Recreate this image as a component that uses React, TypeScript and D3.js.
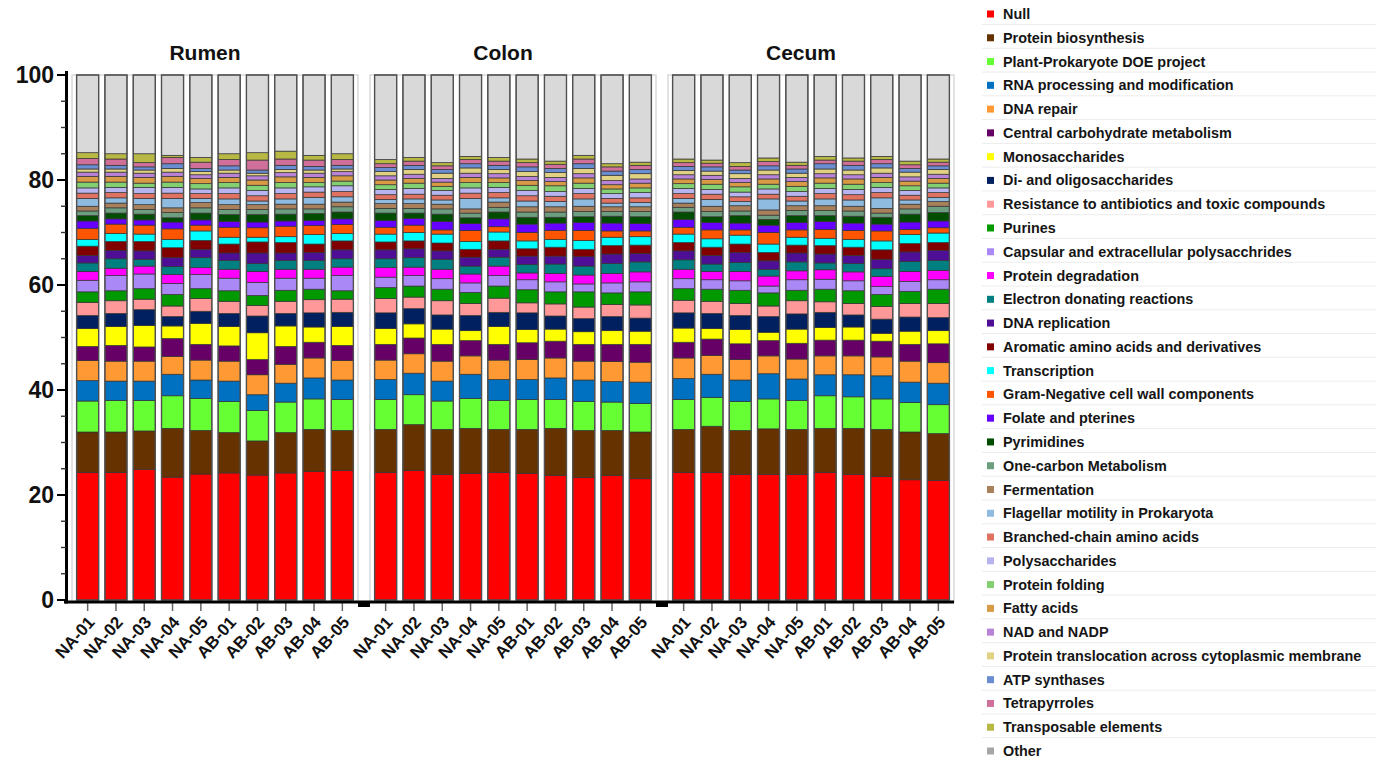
import React from "react";
import * as d3 from "d3";

const categories = [
  "Null", "Protein biosynthesis", "Plant-Prokaryote DOE project", "RNA processing and modification",
  "DNA repair", "Central carbohydrate metabolism", "Monosaccharides", "Di- and oligosaccharides",
  "Resistance to antibiotics and toxic compounds", "Purines", "Capsular and extracellular polysacchrides",
  "Protein degradation", "Electron donating reactions", "DNA replication", "Aromatic amino acids and derivatives",
  "Transcription", "Gram-Negative cell wall  components", "Folate and pterines", "Pyrimidines",
  "One-carbon Metabolism", "Fermentation", "Flagellar motility  in Prokaryota", "Branched-chain amino acids",
  "Polysaccharides", "Protein folding", "Fatty acids", "NAD and NADP",
  "Protein translocation across cytoplasmic membrane", "ATP synthases", "Tetrapyrroles",
  "Transposable elements", "Other",
];

const colors = [
  "#FF0000", "#663300", "#66FF33", "#0070C0", "#FF9933", "#660066", "#FFFF00", "#002060",
  "#FF9999", "#009900", "#AA88F5", "#FF00FF", "#008080", "#4F0E96", "#800000", "#00FFFF",
  "#FF5500", "#6600FF", "#004D00", "#6E9E80", "#A8805C", "#8FBBE0", "#E07262", "#B8B4F0",
  "#82D072", "#D89A44", "#B882D6", "#E0D282", "#6A8CD0", "#D0709A", "#B8B844", "#D9D9D9",
];
const legendColors = colors.map((c, i) => (i === colors.length - 1 ? "#A6A6A6" : c));

const panels = ["Rumen", "Colon", "Cecum"];
const samples = ["NA-01", "NA-02", "NA-03", "NA-04", "NA-05", "AB-01", "AB-02", "AB-03", "AB-04", "AB-05"];
const yTicks = [0, 20, 40, 60, 80, 100];

// rows follow `categories`, columns follow `samples`
const rumen = [
  [24.3, 24.3, 24.9, 23.4, 24.0, 24.2, 23.8, 24.2, 24.5, 24.7],
  [7.7, 7.7, 7.3, 9.3, 8.3, 7.7, 6.5, 7.7, 8.0, 7.6],
  [5.9, 6.0, 5.8, 6.2, 6.1, 5.9, 5.8, 5.8, 5.8, 5.9],
  [3.9, 3.7, 3.7, 4.1, 3.5, 3.9, 3.0, 3.6, 4.0, 3.7],
  [3.8, 3.8, 3.8, 3.4, 3.8, 3.8, 3.8, 3.6, 3.8, 3.7],
  [2.7, 3.0, 2.7, 3.4, 3.0, 2.9, 2.9, 3.4, 3.0, 2.9],
  [3.4, 3.6, 4.1, 2.4, 4.0, 3.7, 5.1, 3.9, 2.9, 3.6],
  [2.5, 2.5, 3.0, 1.8, 2.3, 2.5, 3.2, 2.4, 2.7, 2.7],
  [2.5, 2.4, 2.0, 2.0, 2.4, 2.3, 2.0, 2.3, 2.5, 2.5],
  [2.0, 1.9, 2.0, 2.2, 1.9, 2.0, 1.9, 2.1, 2.0, 1.6],
  [2.2, 2.9, 2.8, 2.1, 2.7, 2.4, 2.5, 2.3, 2.1, 2.9],
  [1.7, 1.4, 1.5, 1.7, 1.3, 1.7, 2.1, 1.7, 1.7, 1.6],
  [1.6, 1.8, 1.3, 1.5, 1.9, 1.7, 1.5, 1.7, 1.7, 1.6],
  [1.4, 1.6, 1.6, 1.7, 1.6, 1.4, 2.0, 1.4, 1.5, 1.7],
  [1.8, 1.7, 1.8, 1.9, 1.7, 1.7, 2.1, 2.0, 1.6, 1.7],
  [1.3, 1.5, 1.4, 1.6, 1.8, 1.3, 0.9, 1.1, 1.8, 1.4],
  [2.1, 1.8, 1.7, 2.0, 1.1, 1.9, 1.8, 2.0, 1.7, 1.7],
  [1.4, 1.0, 1.0, 1.3, 1.0, 1.1, 1.1, 1.0, 1.0, 1.1],
  [1.0, 1.1, 1.1, 0.8, 1.3, 1.3, 1.4, 1.3, 1.3, 1.3],
  [0.9, 1.0, 0.9, 1.0, 1.0, 1.0, 1.0, 1.0, 0.9, 1.0],
  [0.9, 0.9, 0.9, 0.9, 1.0, 0.9, 0.9, 0.9, 0.9, 0.9],
  [1.5, 1.0, 1.2, 1.8, 0.8, 1.1, 0.7, 1.0, 1.3, 1.0],
  [1.0, 1.0, 0.9, 1.0, 0.9, 1.0, 1.0, 1.0, 1.0, 1.0],
  [1.0, 1.0, 1.2, 1.1, 0.9, 1.1, 1.0, 1.1, 1.0, 1.1],
  [1.1, 1.0, 0.8, 1.0, 1.0, 1.0, 1.0, 1.0, 0.8, 0.9],
  [1.1, 1.1, 1.1, 1.1, 1.0, 1.0, 1.0, 1.1, 1.0, 1.0],
  [0.8, 0.8, 0.8, 0.8, 0.7, 0.8, 0.8, 0.8, 0.8, 0.8],
  [0.6, 0.6, 0.6, 0.7, 0.6, 0.6, 0.5, 0.6, 0.6, 0.5],
  [0.8, 0.7, 0.6, 0.9, 0.6, 0.8, 0.6, 0.8, 0.7, 0.7],
  [1.2, 1.2, 0.8, 1.2, 1.2, 1.2, 1.9, 1.2, 1.2, 1.1],
  [1.1, 1.0, 1.7, 0.4, 0.9, 1.1, 1.4, 1.5, 0.9, 1.1],
  [14.8, 15.0, 15.0, 15.3, 15.7, 15.0, 14.8, 14.5, 15.3, 15.0],
];

const colon = [
  [24.3, 24.7, 23.9, 24.1, 24.3, 24.1, 23.7, 23.3, 23.7, 23.1],
  [8.2, 8.7, 8.6, 8.6, 8.2, 8.4, 9.0, 9.0, 8.6, 8.9],
  [5.7, 5.7, 5.4, 5.7, 5.5, 5.7, 5.5, 5.5, 5.4, 5.4],
  [3.8, 4.1, 3.8, 4.6, 4.0, 3.8, 4.1, 4.1, 3.9, 4.1],
  [3.7, 3.7, 3.8, 3.5, 3.7, 3.8, 3.8, 3.6, 3.8, 3.8],
  [3.0, 3.0, 3.2, 2.9, 3.0, 3.2, 3.2, 3.2, 3.3, 3.4],
  [3.0, 2.7, 2.9, 1.9, 3.4, 2.5, 2.3, 2.4, 2.6, 2.5],
  [3.0, 2.9, 2.7, 2.9, 2.7, 3.2, 2.5, 2.5, 2.7, 2.5],
  [2.7, 2.2, 2.7, 2.3, 2.7, 1.9, 2.3, 2.2, 2.3, 2.5],
  [2.1, 2.1, 2.2, 2.1, 2.3, 2.5, 2.3, 2.9, 2.2, 2.5],
  [2.0, 2.0, 2.0, 1.8, 2.0, 1.9, 1.9, 1.5, 1.9, 1.9],
  [1.8, 1.6, 1.8, 1.7, 1.8, 1.3, 1.6, 1.7, 1.8, 1.9],
  [1.7, 1.8, 1.9, 1.5, 1.7, 1.6, 1.8, 1.7, 1.9, 1.9],
  [1.7, 1.7, 1.6, 1.7, 1.5, 1.6, 1.5, 1.8, 1.8, 1.6],
  [1.5, 1.5, 1.5, 1.5, 1.6, 1.4, 1.7, 1.4, 1.6, 1.6],
  [1.5, 1.6, 1.7, 1.5, 1.7, 1.5, 1.5, 1.7, 1.6, 1.6],
  [1.3, 1.4, 0.8, 2.1, 1.0, 1.6, 1.7, 1.9, 1.2, 1.1],
  [1.3, 1.3, 1.6, 1.3, 1.5, 1.6, 1.4, 1.5, 1.5, 1.4],
  [1.4, 1.0, 1.4, 1.1, 1.3, 1.3, 1.1, 1.1, 1.3, 1.3],
  [0.9, 0.9, 1.0, 0.9, 0.9, 1.0, 1.0, 1.0, 0.9, 1.0],
  [0.9, 0.9, 0.9, 0.8, 1.0, 1.0, 1.0, 1.0, 0.9, 0.9],
  [0.8, 0.9, 0.8, 2.0, 0.8, 1.1, 1.0, 1.4, 0.7, 0.8],
  [0.9, 0.9, 0.9, 1.0, 1.0, 1.0, 1.0, 1.0, 0.9, 0.9],
  [1.0, 1.1, 0.9, 1.0, 1.0, 1.0, 0.9, 1.0, 0.9, 1.0],
  [0.9, 1.0, 0.8, 1.0, 0.9, 1.0, 1.1, 1.0, 0.9, 0.9],
  [0.9, 0.9, 0.8, 1.0, 0.9, 0.9, 0.8, 1.0, 0.8, 0.9],
  [0.8, 0.8, 0.7, 0.8, 0.8, 0.8, 0.8, 0.8, 0.8, 0.8],
  [0.8, 0.9, 1.0, 1.0, 0.8, 0.9, 0.9, 1.0, 1.0, 1.0],
  [0.8, 0.8, 0.7, 0.8, 0.8, 0.9, 0.8, 0.9, 0.8, 0.8],
  [0.7, 0.8, 0.7, 0.8, 0.8, 0.8, 0.8, 0.9, 0.8, 0.8],
  [0.8, 0.7, 0.6, 0.6, 0.7, 0.7, 0.6, 0.7, 0.6, 0.6],
  [16.1, 15.7, 16.7, 15.5, 15.7, 16.0, 16.4, 15.3, 16.9, 16.6],
];

const cecum = [
  [24.3, 24.3, 23.9, 23.9, 23.9, 24.3, 23.9, 23.5, 22.9, 22.8],
  [8.2, 8.8, 8.4, 8.7, 8.6, 8.4, 8.8, 9.0, 9.1, 8.9],
  [5.7, 5.5, 5.5, 5.7, 5.5, 6.2, 6.0, 5.8, 5.6, 5.5],
  [4.0, 4.4, 4.1, 4.8, 4.1, 4.0, 4.2, 4.4, 3.9, 4.1],
  [3.9, 3.6, 3.9, 3.4, 3.8, 3.6, 3.6, 3.6, 4.0, 3.9],
  [3.0, 3.1, 3.0, 2.9, 3.0, 3.0, 3.0, 3.0, 3.2, 3.6],
  [2.7, 2.0, 2.7, 1.6, 2.7, 2.4, 2.5, 1.5, 2.5, 2.5],
  [2.9, 2.9, 2.7, 3.0, 2.9, 2.9, 2.3, 2.7, 2.7, 2.5],
  [2.4, 2.3, 2.3, 2.0, 2.5, 2.0, 2.2, 2.4, 2.6, 2.7],
  [2.2, 2.3, 2.5, 2.5, 2.0, 2.4, 2.4, 2.3, 2.3, 2.7],
  [1.9, 1.8, 1.8, 1.3, 2.0, 1.9, 1.9, 1.5, 1.9, 1.8],
  [1.8, 1.6, 1.8, 1.9, 1.7, 1.8, 1.7, 1.9, 1.9, 1.8],
  [1.8, 1.4, 1.7, 1.3, 1.7, 1.3, 1.6, 1.5, 1.9, 1.9],
  [1.7, 1.6, 1.9, 1.6, 1.7, 1.7, 1.5, 1.8, 1.8, 1.9],
  [1.6, 1.6, 1.6, 1.6, 1.5, 1.6, 1.6, 1.8, 1.6, 1.5],
  [1.6, 1.6, 1.7, 1.6, 1.5, 1.4, 1.5, 1.7, 1.7, 1.8],
  [1.3, 1.7, 1.0, 2.2, 1.4, 1.7, 1.7, 1.9, 1.0, 1.0],
  [1.5, 1.4, 1.3, 1.4, 1.4, 1.5, 1.4, 1.3, 1.4, 1.3],
  [1.4, 1.1, 1.4, 1.1, 1.3, 1.1, 1.3, 1.3, 1.5, 1.6],
  [0.9, 1.0, 0.9, 0.8, 1.0, 1.0, 1.0, 0.8, 1.0, 1.2],
  [0.8, 1.0, 1.0, 1.0, 0.9, 0.9, 0.9, 0.9, 0.9, 0.9],
  [0.9, 1.3, 0.8, 2.1, 0.9, 1.3, 1.2, 2.0, 0.8, 0.8],
  [0.9, 1.0, 0.9, 0.9, 0.9, 1.0, 1.0, 1.0, 0.9, 0.9],
  [1.0, 0.9, 0.9, 1.0, 0.9, 1.0, 1.0, 1.0, 0.9, 0.9],
  [0.9, 1.0, 1.0, 0.9, 1.0, 1.0, 1.0, 0.9, 0.9, 0.9],
  [0.9, 0.9, 0.8, 1.0, 0.9, 1.0, 1.0, 1.0, 0.9, 0.9],
  [0.8, 0.8, 0.8, 0.8, 0.8, 0.8, 0.8, 0.8, 0.8, 0.8],
  [0.8, 0.8, 0.9, 0.9, 0.8, 0.9, 0.9, 1.0, 0.9, 0.9],
  [0.8, 0.8, 0.7, 0.8, 0.8, 1.0, 0.9, 0.8, 0.7, 0.7],
  [0.7, 0.7, 0.7, 0.8, 0.7, 0.7, 0.8, 0.8, 0.7, 0.7],
  [0.7, 0.6, 0.7, 0.7, 0.6, 0.7, 0.6, 0.6, 0.7, 0.6],
  [16.0, 16.2, 16.7, 15.8, 16.6, 15.5, 15.8, 15.5, 16.4, 16.0],
];

const panelData = [rumen, colon, cecum];

const FONT = "'Liberation Sans', Arial, Helvetica, sans-serif";
const W = 1379;
const H = 761;

export default function App() {
  const y = d3.scaleLinear().domain([0, 100]).range([600, 75]);
  const panelX = d3.scaleBand<string>().domain(panels).range([72, 954]).paddingInner(0.0403);
  const x = d3
    .scaleBand<string>()
    .domain(samples)
    .range([0, panelX.bandwidth()])
    .paddingInner(0.22)
    .paddingOuter(0.163);

  const stack = d3.stack<Record<string, number>>().keys(categories);
  const color = d3.scaleOrdinal<string, string>().domain(categories).range(colors);

  const axisY = 602;
  const xStart = 64;
  const xEnd = (panelX(panels[2]) as number) + panelX.bandwidth();

  const legendY = d3.scalePoint<string>().domain(categories).range([14, 751]);

  return (
    <svg
      width={W}
      height={H}
      style={{ position: "absolute", left: 0, top: 0, background: "#fff", fontFamily: FONT }}
    >
      <rect x={0} y={0} width={W} height={H} fill="#fff" />
      {panels.map((p, pi) => {
        const px = panelX(p) as number;
        const rows = samples.map((s, si) => {
          const r: Record<string, number> = {};
          categories.forEach((c, ci) => (r[c] = panelData[pi][ci][si]));
          return r;
        });
        const series = stack(rows);
        return (
          <g key={p}>
            <rect
              x={px}
              y={y(100)}
              width={panelX.bandwidth()}
              height={y(0) - y(100) + 2}
              fill="none"
              stroke="#cfcfcf"
              strokeWidth={1.2}
            />
            <text
              x={px + panelX.bandwidth() / 2 - 10}
              y={60}
              textAnchor="middle"
              fontSize={21}
              fontWeight="bold"
              fill="#111"
            >
              {p}
            </text>
            {series.map((ser) => (
              <g key={ser.key} fill={color(ser.key)}>
                {ser.map((d, si) => (
                  <rect
                    key={si}
                    x={px + (x(samples[si]) as number)}
                    y={y(d[1])}
                    width={x.bandwidth()}
                    height={Math.max(0, y(d[0]) - y(d[1]))}
                    stroke="#333"
                    strokeWidth={0.7}
                  />
                ))}
              </g>
            ))}
            {samples.map((s) => (
              <rect
                key={s}
                x={px + (x(s) as number)}
                y={y(100)}
                width={x.bandwidth()}
                height={y(0) - y(100)}
                fill="none"
                stroke="#505050"
                strokeWidth={1.4}
              />
            ))}
            {samples.map((s) => {
              const cx = px + (x(s) as number) + x.bandwidth() / 2;
              return (
                <g key={"t" + s}>
                  <line x1={cx} x2={cx} y1={axisY + 1} y2={axisY + 9} stroke="#666" strokeWidth={1.5} />
                  <text
                    transform={`translate(${cx + 8},${axisY + 21}) rotate(-48)`}
                    textAnchor="end"
                    fontSize={17}
                    fontWeight="bold"
                    fill="#111"
                  >
                    {s}
                  </text>
                </g>
              );
            })}
          </g>
        );
      })}

      {/* x axis */}
      <line x1={xStart} x2={xEnd} y1={axisY} y2={axisY} stroke="#000" strokeWidth={3} />
      {panels.slice(1).map((p) => {
        const px = panelX(p) as number;
        return (
          <line key={"gap" + p} x1={px - 12} x2={px} y1={axisY + 3} y2={axisY + 3} stroke="#000" strokeWidth={4} />
        );
      })}

      {/* y axis */}
      <line x1={66.5} x2={66.5} y1={71} y2={axisY + 1.5} stroke="#000" strokeWidth={3} />
      {y.ticks(20).map((t) => (
        <line key={"m" + t} x1={61} x2={66} y1={y(t)} y2={y(t)} stroke="#333" strokeWidth={1.4} />
      ))}
      {yTicks.map((t) => (
        <g key={"y" + t}>
          <line x1={57} x2={66} y1={y(t)} y2={y(t)} stroke="#000" strokeWidth={2} />
          <text x={54} y={y(t)} dy="0.36em" textAnchor="end" fontSize={23} fontWeight="bold" fill="#111">
            {t}
          </text>
        </g>
      ))}

      {/* legend */}
      {categories.map((c, i) => {
        const ly = legendY(c) as number;
        return (
          <g key={"lg" + c}>
            <line x1={982} x2={1376} y1={ly + 10.5} y2={ly + 10.5} stroke="#ececec" strokeWidth={1} />
            <rect x={987} y={ly - 3.5} width={7} height={7} fill={legendColors[i]} />
            <text x={1003} y={ly} dy="0.35em" fontSize={14.4} fontWeight="bold" fill="#151515">
              {c}
            </text>
          </g>
        );
      })}
    </svg>
  );
}
